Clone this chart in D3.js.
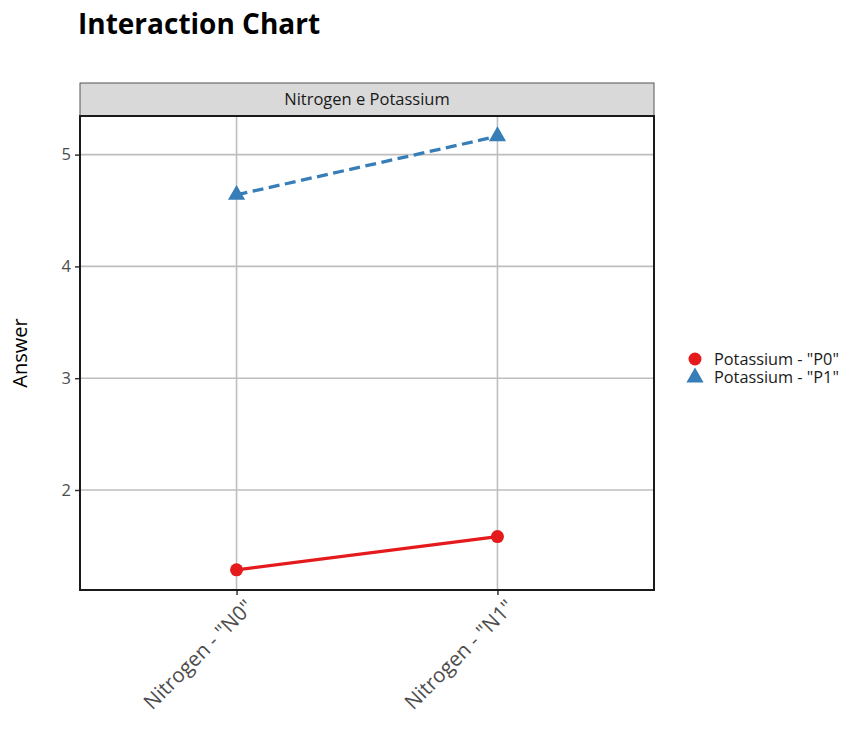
<!DOCTYPE html>
<html><head><meta charset="utf-8">
<script src="https://cdn.jsdelivr.net/npm/d3@7"></script>
<style>body{margin:0;background:#fff;font-family:"Open Sans","Noto Sans",sans-serif;}</style>
</head><body>
<svg id="c" width="866" height="733"></svg>
<script>
const categories = ['Nitrogen - "N0"', 'Nitrogen - "N1"'];
const seriesNames = ['Potassium - "P0"', 'Potassium - "P1"'];
const p0Values = [1.286, 1.583];
const p1Values = [4.64, 5.164];
const yTicks = [2, 3, 4, 5];
const title = "Interaction Chart";
const stripLabel = "Nitrogen e Potassium";
const yLabel = "Answer";

const FONT = '"Open Sans","Noto Sans",sans-serif';
const colors = ["#e41a1c", "#377eb8"];
const svg = d3.select("#c").attr("font-family", FONT);
const L = 80, R = 654, T = 116, B = 590;

svg.append("text").attr("x", 78).attr("y", 34).text(title)
  .attr("font-size", 28).attr("font-weight", "bold").attr("fill", "#000");

// strip
svg.append("rect").attr("x", L).attr("y", 83).attr("width", R - L).attr("height", T - 83)
  .attr("fill", "#d9d9d9").attr("stroke", "#555").attr("stroke-width", 1);
svg.append("text").attr("x", (L + R) / 2).attr("y", 104.5).attr("text-anchor", "middle")
  .attr("font-size", 16.5).attr("fill", "#1a1a1a").text(stripLabel);

// discrete scale with 0.6 expansion on each side
const xs = d3.scaleLinear().domain([0.4, 2.6]).range([L, R]);
const xPos = c => xs(categories.indexOf(c) + 1);
const y = d3.scaleLinear().domain([2 - (590 - 490) / 111.8, 2 + (490 - 116) / 111.8]).range([B, T]);

// grid
const g = svg.append("g");
g.selectAll(".hy").data(yTicks).join("line")
  .attr("x1", L).attr("x2", R).attr("y1", d => y(d)).attr("y2", d => y(d))
  .attr("stroke", "#bebebe").attr("stroke-width", 1.6);
g.selectAll(".vx").data(categories).join("line")
  .attr("x1", d => xPos(d)).attr("x2", d => xPos(d)).attr("y1", T).attr("y2", B)
  .attr("stroke", "#bebebe").attr("stroke-width", 1.6);

// axes
const yAxis = d3.axisLeft(y).tickValues(yTicks).tickSize(5).tickPadding(4).tickFormat(d3.format("d"));
const ya = svg.append("g").attr("transform", `translate(${L},0)`).call(yAxis);
ya.select(".domain").remove();
ya.selectAll("line").attr("stroke", "#333").attr("stroke-width", 1.5);
ya.selectAll("text").attr("font-size", 16.5).attr("fill", "#4d4d4d").attr("font-family", FONT);

const xAxis = d3.axisBottom(xs).tickValues([1, 2]).tickSize(5).tickFormat(d => categories[d - 1]);
const xa = svg.append("g").attr("transform", `translate(0,${B})`).call(xAxis);
xa.select(".domain").remove();
xa.selectAll("line").attr("stroke", "#333").attr("stroke-width", 1.5);
xa.selectAll("text").attr("font-size", 20.5).attr("fill", "#4d4d4d")
  .attr("font-family", FONT)
  .attr("text-anchor", "end").attr("y", 0).attr("dy", "0.72em")
  .attr("transform", "translate(7,8) rotate(-45)");

// lines
const line = d3.line().x((d, i) => xPos(categories[i])).y(d => y(d));
svg.append("path").datum(p0Values).attr("d", line).attr("fill", "none")
  .attr("stroke", colors[0]).attr("stroke-width", 3.3);
svg.append("path").datum(p1Values).attr("d", line).attr("fill", "none")
  .attr("stroke", colors[1]).attr("stroke-width", 3.3).attr("stroke-dasharray", "11,5.5");

svg.selectAll(".p0").data(p0Values).join("circle")
  .attr("cx", (d, i) => xPos(categories[i])).attr("cy", d => y(d)).attr("r", 6.5).attr("fill", colors[0]);
const tri = d3.symbol().type(d3.symbolTriangle).size(128);
svg.selectAll(".p1").data(p1Values).join("path")
  .attr("d", tri).attr("transform", (d, i) => `translate(${xPos(categories[i])},${y(d)})`).attr("fill", colors[1]);

// panel border
svg.append("rect").attr("x", L).attr("y", T).attr("width", R - L).attr("height", B - T)
  .attr("fill", "none").attr("stroke", "#1a1a1a").attr("stroke-width", 2);

// y label
svg.append("text").attr("transform", `translate(27,${(T + B) / 2}) rotate(-90)`)
  .attr("text-anchor", "middle").attr("font-size", 20).attr("fill", "#000").text(yLabel);

// legend
const lg = svg.append("g");
lg.append("circle").attr("cx", 695).attr("cy", 359).attr("r", 6.5).attr("fill", colors[0]);
lg.append("path").attr("d", tri).attr("transform", "translate(695,377.5)").attr("fill", colors[1]);
seriesNames.forEach((s, i) => {
  lg.append("text").attr("x", 714).attr("y", 365 + i * 17.7).attr("font-size", 16.3)
    .attr("fill", "#1a1a1a").text(s);
});
</script>
</body></html>
